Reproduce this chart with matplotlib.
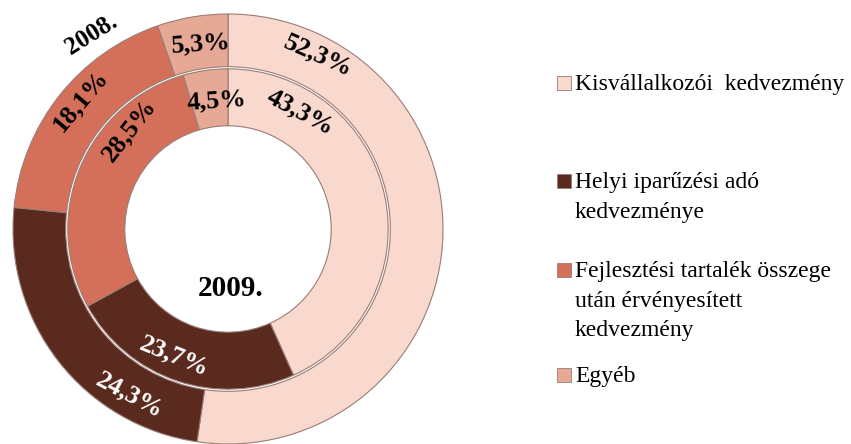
import numpy as np
import matplotlib
matplotlib.use('Agg')
import matplotlib.pyplot as plt
from matplotlib.patches import Rectangle

plt.rcParams['font.family'] = ['Liberation Serif', 'DejaVu Serif']

categories = ['Kisvállalkozói  kedvezmény',
              'Helyi iparűzési adó\nkedvezménye',
              'Fejlesztési tartalék összege\nután érvényesített\nkedvezmény',
              'Egyéb']
values_2008 = [52.3, 24.3, 18.1, 5.3]
values_2009 = [43.3, 23.7, 28.5, 4.5]
colors = ['#f9d8ce', '#5a2a1e', '#d4705a', '#e6a996']
text_colors = ['black', 'white', 'black', 'black']

# label placement (angle deg, radius, rotation) for each ring
pos_2008 = [(62.6, 0.91, -24), (-120.6, 0.90, -28), (138.9, 0.91, 50), (98.3, 0.87, 4)]
pos_2009 = [(58.4, 0.64, -28), (-112.8, 0.64, -22), (134.7, 0.65, 52), (94.9, 0.60, 4)]

fig = plt.figure(figsize=(8.51, 4.44), dpi=100)
ax = fig.add_axes([13 / 851, 0, 430 / 851, 430 / 444])
ax.set_aspect('equal')
ax.axis('off')

edge = dict(edgecolor='#9a7c76', linewidth=0.8)
ax.pie(values_2008, colors=colors, startangle=90, counterclock=False,
       radius=1.0, wedgeprops=dict(width=0.245, **edge))
ax.pie(values_2009, colors=colors, startangle=90, counterclock=False,
       radius=0.745, wedgeprops=dict(width=0.265, **edge))
ax.set_xlim(-1, 1)
ax.set_ylim(-1, 1)

def pct(v):
    return f'{v:.1f}%'.replace('.', ',')

for vals, pos in ((values_2008, pos_2008), (values_2009, pos_2009)):
    for v, (a, r, rot), tc in zip(vals, pos, text_colors):
        x = r * np.cos(np.radians(a))
        y = r * np.sin(np.radians(a))
        ax.text(x, y, pct(v), ha='center', va='center', rotation=rot,
                rotation_mode='anchor', fontsize=19, fontweight='bold',
                color=tc, clip_on=False)

ax.text(-0.633, 0.905, '2008.', ha='center', va='center', rotation=32,
        rotation_mode='anchor', fontsize=18, fontweight='bold', clip_on=False)
ax.text(0.014, -0.279, '2009.', ha='center', va='center',
        fontsize=21, fontweight='bold')

# legend, placed by hand like the original
W, H = 851, 444
first_baselines = [90, 188, 277, 382]
line_gap = 29.5
for lab, c, yb in zip(categories, colors, first_baselines):
    fig.patches.append(Rectangle((557 / W, (H - yb) / H), 14 / W, 14 / H,
                                 transform=fig.transFigure, facecolor=c,
                                 edgecolor='#9a7c76', linewidth=0.6))
    for k, line in enumerate(lab.split('\n')):
        fig.text(575 / W, (H - yb - k * line_gap) / H, line,
                 ha='left', va='baseline', fontsize=17)

fig.savefig('out.png', dpi=100)
